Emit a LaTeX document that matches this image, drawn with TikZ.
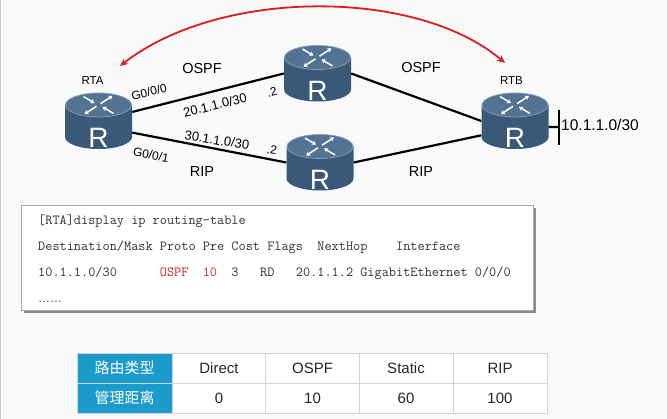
\documentclass[tikz,border=0pt]{standalone}
\usepackage{fontspec}
\setmainfont{Liberation Sans}
\newfontfamily\cjk{Noto Sans CJK SC}
\usetikzlibrary{arrows.meta,shadows}

\definecolor{bg}{RGB}{248,249,249}
\definecolor{rtop}{RGB}{84,115,146}
\definecolor{rside}{RGB}{58,88,120}
\definecolor{rrim}{RGB}{135,160,185}
\definecolor{arcred}{RGB}{222,28,28}
\definecolor{clired}{RGB}{196,40,40}
\definecolor{thblue}{RGB}{26,155,203}
\definecolor{cellline}{RGB}{212,212,212}

\tikzset{
  link/.style={line width=2.2pt},
  routerbox/.style={rectangle,minimum width=67pt,minimum height=58pt,inner sep=0pt},
  rletter/.style={inner sep=0pt,text=white,font=\fontsize{28pt}{30pt}\selectfont},
  icon/.style={white,line width=1.5pt,-{Stealth[length=4pt,width=5pt]}},
  rname/.style={inner sep=0pt,font=\fontsize{11.5pt}{13pt}\selectfont},
  proto/.style={inner sep=0pt,font=\fontsize{14.5pt}{16pt}\selectfont},
  port/.style={inner sep=0pt,font=\fontsize{12pt}{14pt}\selectfont},
  net/.style={inner sep=0pt,font=\fontsize{13pt}{15pt}\selectfont},
  cli/.style={inner sep=0pt,anchor=base west,text=black!80,font=\ttfamily\fontsize{13.9pt}{15pt}\selectfont},
  cell/.style={draw=cellline,line width=0.8pt,fill=white,minimum width=94pt,minimum height=30pt,
    inner sep=0pt,text=black!85,font=\fontsize{15pt}{17pt}\selectfont},
  head/.style={cell,fill=thblue,minimum width=95pt,text=white,font=\cjk\fontsize{15pt}{17pt}\selectfont}
}

\newcommand{\router}[2]{%
  \begin{scope}[shift={(#2)}]
    \fill[rside] (-33.5,-16) -- (-33.5,16) arc[start angle=180,end angle=0,x radius=33.5,y radius=12] -- (33.5,-16) -- cycle;
    \fill[rtop,draw=rrim,line width=0.7pt] (0,-16) ellipse[x radius=33,y radius=12];
    \begin{scope}[shift={(0,-16)},yscale=0.65]
      \draw[icon] (2,-2) -- (14,-14);
      \draw[icon] (-2,2) -- (-14,14);
      \draw[icon] (-15,-13) -- (-4,-3);
      \draw[icon] (15,13) -- (4,3);
    \end{scope}
    \node[rletter] (#1-r) at (0,17) {R};
    \node[routerbox] (#1) at (0,0) {};
  \end{scope}}

\begin{document}
\begin{tikzpicture}[x=1pt,y=-1pt]
  \useasboundingbox (0,0) rectangle (667,419);
  \fill[bg] (0,0) rectangle (667,419);
  \draw[black!22,line width=1pt] (0.5,0) -- (0.5,419);

  \router{rta}{98.5,121}
  \router{rt1}{317.5,73.5}
  \router{rt2}{320,162.5}
  \router{rtb}{515,121}

  \draw[link] (rta.15) -- (rt1.west);
  \draw[link] (rta.-19) -- (rt2.west);
  \draw[link] (rt1.east) -- (rtb.west);
  \draw[link] (rt2.east) -- (rtb.-157);

  \coordinate (stub) at (559,127);
  \coordinate (bart) at (559,110);
  \coordinate (barb) at (559,145);
  \draw[link] (rtb.-10) -- (stub);
  \draw[link] (bart) -- (barb);
  \node[inner sep=0pt,anchor=west,font=\fontsize{15.5pt}{17pt}\selectfont] (lan) at (561,125) {10.1.1.0/30};

  \coordinate (arcl) at (120,66);
  \coordinate (arcr) at (505,63);
  \draw[arcred,line width=1.8pt,{Stealth[length=8pt,width=7pt]}-{Stealth[length=8pt,width=7pt]}]
    (arcl) .. controls (220,-12) and (417,-12) .. (arcr);

  \node[rname] (nrta) at (92.5,80.5) {RTA};
  \node[rname] (nrtb) at (511.5,80.5) {RTB};
  \node[proto] (p1) at (202,68.5) {OSPF};
  \node[proto] (p2) at (202,172) {RIP};
  \node[proto] (p3) at (421,68) {OSPF};
  \node[proto] (p4) at (421,172) {RIP};
  \node[port,rotate=14] (g0) at (149,92) {G0/0/0};
  \node[port,rotate=-11] (g1) at (151,155) {G0/0/1};
  \node[net,rotate=14] (n20) at (215,105) {20.1.1.0/30};
  \node[net,rotate=-9] (n30) at (217,140) {30.1.1.0/30};
  \node[port,rotate=14] (d1) at (272,92) {.2};
  \node[port,rotate=-10] (d2) at (272,150) {.2};

  \node[draw=black!35,line width=0.7pt,fill=white,minimum width=512pt,minimum height=105pt,
    drop shadow={shadow xshift=3pt,shadow yshift=-3pt,fill=black!45,opacity=1}] (box) at (277,257.5) {};
  \node[cli] (l1) at (38,225) {[RTA]display ip routing-table};
  \node[cli] (l2) at (38,251) {Destination/Mask Proto Pre Cost Flags~~NextHop~~~~Interface};
  \node[cli] (l3) at (38,277) {10.1.1.0/30~~~~~~\textcolor{clired}{OSPF~~10}~~3~~~RD~~~20.1.1.2 GigabitEthernet 0/0/0};
  \node[cli,font=\fontsize{11.9pt}{14pt}\selectfont] (l4) at (38,303) {……};

  \node[head] (h1) at (124.5,368) {路由类型};
  \node[head] (h2) at (124.5,398) {管理距离};
  \foreach \x/\t/\v [count=\i] in {219/Direct/0,312.5/OSPF/10,406/Static/60,500/RIP/100}{
    \node[cell] (t\i) at (\x,368) {\t};
    \node[cell] (v\i) at (\x,398) {\v};
  }
\end{tikzpicture}
\end{document}
